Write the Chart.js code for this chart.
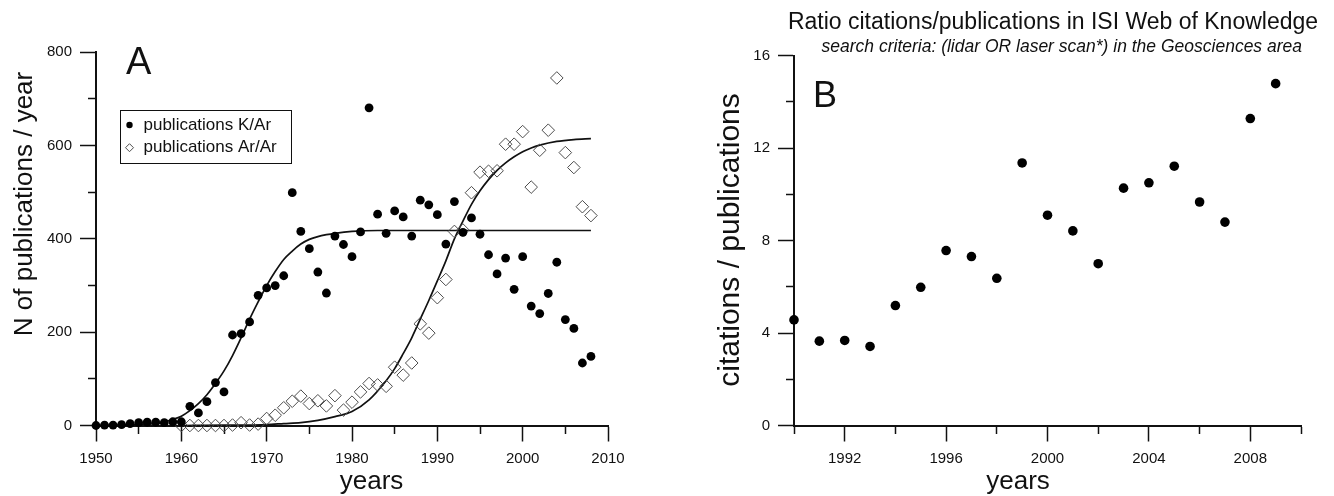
<!DOCTYPE html>
<html>
<head>
<meta charset="utf-8">
<script src="https://cdn.jsdelivr.net/npm/chart.js@4.4.1/dist/chart.umd.min.js"></script>
<style>
  html, body { margin: 0; padding: 0; background: #fff; }
  #wrap { position: relative; width: 1334px; height: 496px; }
  .panel { position: absolute; top: 0; width: 667px; height: 496px; }
</style>
</head>
<body>
<div id="wrap">
  <div class="panel" style="left:0"><canvas id="chartA"></canvas></div>
  <div class="panel" style="left:667px"><canvas id="chartB"></canvas></div>
</div>
<script>
// Panel A: publications per year
const kArYears = [1950, 1951, 1952, 1953, 1954, 1955, 1956, 1957, 1958, 1959,
  1960, 1961, 1962, 1963, 1964, 1965, 1966, 1967, 1968, 1969,
  1970, 1971, 1972, 1973, 1974, 1975, 1976, 1977, 1978, 1979,
  1980, 1981, 1982, 1983, 1984, 1985, 1986, 1987, 1988, 1989,
  1990, 1991, 1992, 1993, 1994, 1995, 1996, 1997, 1998, 1999,
  2000, 2001, 2002, 2003, 2004, 2005, 2006, 2007, 2008];
const kArCounts = [0, 1, 1, 2, 4, 6, 7, 7, 6, 8,
  8, 41, 27, 51, 92, 72, 194, 197, 222, 279,
  295, 300, 321, 499, 416, 379, 329, 284, 406, 388,
  362, 415, 681, 453, 412, 460, 447, 406, 483, 473,
  452, 389, 480, 414, 445, 410, 366, 325, 359, 292,
  362, 256, 240, 283, 350, 227, 208, 134, 148];

const arArYears = [1960, 1961, 1962, 1963, 1964, 1965, 1966, 1967, 1968, 1969,
  1970, 1971, 1972, 1973, 1974, 1975, 1976, 1977, 1978, 1979,
  1980, 1981, 1982, 1983, 1984, 1985, 1986, 1987, 1988, 1989,
  1990, 1991, 1992, 1993, 1994, 1995, 1996, 1997, 1998, 1999,
  2000, 2001, 2002, 2003, 2004, 2005, 2006, 2007, 2008];
const arArCounts = [0, 0, 0, 0, 0, 0, 1, 6, 1, 3,
  15, 22, 38, 52, 63, 47, 53, 42, 64, 33,
  50, 72, 90, 87, 84, 125, 108, 134, 218, 198,
  274, 313, 416, 419, 499, 543, 545, 546, 603, 603,
  630, 511, 590, 633, 745, 585, 553, 469, 450];

// fitted curves
const kArFitYears = [1950, 1953, 1956, 1957, 1958, 1959, 1960, 1961, 1962, 1963,
  1964, 1965, 1966, 1967, 1968, 1969, 1970, 1971, 1972, 1973,
  1974, 1975, 1976, 1977, 1978, 1980, 1983, 1990, 2000, 2008];
const kArFitValues = [0, 1, 3, 4, 8, 13, 20, 32, 47, 66,
  90, 117, 150, 188, 228, 265, 300, 330, 356, 374,
  389, 399, 405, 409, 412, 416, 418, 418, 418, 418];

const arArFitYears = [1960, 1965, 1968, 1970, 1972, 1974, 1976, 1978, 1980, 1982,
  1984, 1985, 1986, 1987, 1988, 1989, 1990, 1991, 1992, 1993,
  1994, 1995, 1996, 1997, 1998, 1999, 2000, 2001, 2002, 2004, 2006, 2008];
const arArFitValues = [0, 1, 1, 2, 4, 6, 11, 19, 30, 55,
  96, 122, 154, 188, 228, 268, 310, 353, 400, 438,
  474, 503, 527, 547, 563, 576, 587, 595, 601, 609, 613, 615];

// Panel B: ratio citations / publications
const ratioYears = [1990, 1991, 1992, 1993, 1994, 1995, 1996, 1997, 1998, 1999,
  2000, 2001, 2002, 2003, 2004, 2005, 2006, 2007, 2008, 2009];
const ratioValues = [4.57, 3.65, 3.68, 3.42, 5.19, 5.98, 7.57, 7.31, 6.37, 11.36,
  9.1, 8.42, 7.0, 10.27, 10.5, 11.22, 9.67, 8.8, 13.28, 14.79];

const FONT = "'Liberation Sans', Arial, sans-serif";
const INK = "#111";

function toPoints(xs, ys) {
  return xs.map((x, i) => ({ x: x, y: ys[i] }));
}

// free text + legend box drawn on top of each panel
const panelText = {
  id: "panelText",
  afterDraw(chart, args, opts) {
    const ctx = chart.ctx;
    (opts.items || []).forEach((t) => {
      ctx.save();
      ctx.fillStyle = INK;
      ctx.font = t.font;
      ctx.textAlign = t.align || "center";
      ctx.textBaseline = "alphabetic";
      ctx.translate(t.x, t.y);
      if (t.rotate) ctx.rotate(t.rotate);
      ctx.fillText(t.text, 0, 0);
      ctx.restore();
    });
    const lg = opts.legend;
    if (lg) {
      ctx.save();
      ctx.strokeStyle = INK;
      ctx.lineWidth = 1;
      ctx.strokeRect(lg.x, lg.y, lg.w, lg.h);
      ctx.font = "17px " + FONT;
      ctx.textAlign = "left";
      ctx.textBaseline = "middle";
      lg.rows.forEach((r) => {
        const ds = chart.data.datasets[r.dataset];
        ctx.fillStyle = INK;
        ctx.fillText(ds.label, lg.x + 23, r.y);
        ctx.beginPath();
        if (ds.pointStyle === "rectRot") {
          const s = 4;
          ctx.moveTo(lg.x + 9 - s, r.y);
          ctx.lineTo(lg.x + 9, r.y - s);
          ctx.lineTo(lg.x + 9 + s, r.y);
          ctx.lineTo(lg.x + 9, r.y + s);
          ctx.closePath();
          ctx.strokeStyle = ds.borderColor;
          ctx.stroke();
        } else {
          ctx.arc(lg.x + 9, r.y, 3.2, 0, Math.PI * 2);
          ctx.fillStyle = ds.backgroundColor;
          ctx.fill();
        }
      });
      ctx.restore();
    }
  },
};

function axisStyle() {
  return {
    border: { color: INK, width: 2 },
    ticks: { color: INK, font: { family: FONT, size: 15 }, padding: 8, autoSkip: false, maxRotation: 0 },
  };
}

function xAxis(min, max, step, isMajor) {
  const a = axisStyle();
  return {
    type: "linear",
    min: min,
    max: max,
    afterFit: (s) => { s.height = 70.5; },
    border: a.border,
    ticks: Object.assign(a.ticks, {
      stepSize: step,
      callback: (v) => (isMajor(v) ? String(v) : ""),
    }),
    grid: {
      drawOnChartArea: false,
      tickLength: 16,
      tickWidth: 1.5,
      tickColor: INK,
      tickBorderDash: (c) => (c.tick && !isMajor(c.tick.value) ? [7, 100] : []),
    },
  };
}

function yAxis(min, max, step, isMajor, width) {
  const a = axisStyle();
  return {
    min: min,
    max: max,
    afterFit: (s) => { s.width = width; },
    border: a.border,
    ticks: Object.assign(a.ticks, {
      stepSize: step,
      callback: (v) => (isMajor(v) ? String(v) : ""),
    }),
    grid: {
      drawOnChartArea: false,
      tickLength: 16,
      tickWidth: 1.5,
      tickColor: INK,
      tickBorderDash: (c) => (c.tick && !isMajor(c.tick.value) ? [0, 8, 100] : []),
    },
  };
}

new Chart(document.getElementById("chartA"), {
  type: "scatter",
  data: {
    datasets: [
      {
        label: "fit Ar/Ar",
        data: toPoints(arArFitYears, arArFitValues),
        showLine: true,
        cubicInterpolationMode: "monotone",
        borderColor: INK,
        borderWidth: 1.7,
        pointRadius: 0,
        order: 4,
      },
      {
        label: "fit K/Ar",
        data: toPoints(kArFitYears, kArFitValues),
        showLine: true,
        cubicInterpolationMode: "monotone",
        borderColor: INK,
        borderWidth: 1.7,
        pointRadius: 0,
        order: 3,
      },
      {
        label: "publications Ar/Ar",
        data: toPoints(arArYears, arArCounts),
        pointStyle: "rectRot",
        pointRadius: 6.3,
        backgroundColor: "rgba(255,255,255,0)",
        borderColor: "#4d4d4d",
        borderWidth: 1,
        order: 2,
      },
      {
        label: "publications K/Ar",
        data: toPoints(kArYears, kArCounts),
        pointStyle: "circle",
        pointRadius: 4.4,
        backgroundColor: "#000",
        borderWidth: 0,
        order: 1,
      },
    ],
  },
  options: {
    responsive: true,
    maintainAspectRatio: false,
    animation: false,
    events: [],
    clip: false,
    layout: { padding: { left: 0, right: 59, top: 52.3, bottom: 0 } },
    plugins: {
      legend: { display: false },
      tooltip: { enabled: false },
      panelText: {
        items: [
          { text: "A", x: 126, y: 73.5, font: "38px " + FONT, align: "left" },
          { text: "years", x: 371.5, y: 489, font: "26px " + FONT },
          { text: "N of publications / year", x: 32, y: 204, font: "26px " + FONT, rotate: -Math.PI / 2 },
        ],
        legend: {
          x: 120.5, y: 110.5, w: 171, h: 53,
          rows: [{ dataset: 3, y: 125 }, { dataset: 2, y: 147.7 }],
        },
      },
    },
    scales: {
      x: xAxis(1950, 2010, 5, (v) => v % 10 === 0),
      y: yAxis(0, 800, 100, (v) => v % 200 === 0, 96),
    },
  },
  plugins: [panelText],
});

new Chart(document.getElementById("chartB"), {
  type: "scatter",
  data: {
    datasets: [
      {
        label: "citations / publications",
        data: toPoints(ratioYears, ratioValues),
        pointStyle: "circle",
        pointRadius: 4.8,
        backgroundColor: "#000",
        borderWidth: 0,
      },
    ],
  },
  options: {
    responsive: true,
    maintainAspectRatio: false,
    animation: false,
    events: [],
    clip: false,
    layout: { padding: { left: 0, right: 33, top: 55.7, bottom: 0 } },
    plugins: {
      legend: { display: false },
      tooltip: { enabled: false },
      panelText: {
        items: [
          { text: "Ratio citations/publications in ISI Web of Knowledge", x: 386, y: 28.5, font: "23px " + FONT },
          { text: "search criteria: (lidar OR laser scan*) in the Geosciences area", x: 635, y: 51.7, font: "italic 17.5px " + FONT, align: "right" },
          { text: "B", x: 146, y: 106.7, font: "36px " + FONT, align: "left" },
          { text: "years", x: 351, y: 489, font: "26px " + FONT },
          { text: "citations / publications", x: 72, y: 240, font: "30px " + FONT, rotate: -Math.PI / 2 },
        ],
      },
    },
    scales: {
      x: xAxis(1990, 2010, 2, (v) => (v - 1992) % 4 === 0),
      y: yAxis(0, 16, 2, (v) => v % 4 === 0, 127),
    },
  },
  plugins: [panelText],
});
</script>
</body>
</html>
